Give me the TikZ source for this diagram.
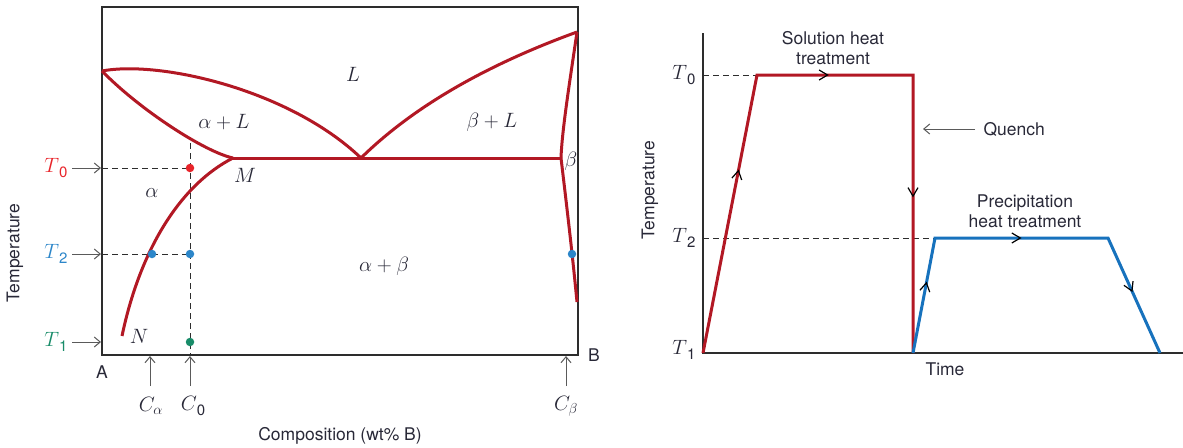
\documentclass[tikz,border=0pt]{standalone}
\usepackage{fontspec}
\setmainfont{TeX Gyre Heros}
\usetikzlibrary{arrows.meta,decorations.markings}
\definecolor{phred}{RGB}{178,24,36}
\definecolor{phblue}{RGB}{23,114,189}
\definecolor{tred}{RGB}{232,36,42}
\definecolor{tblue}{RGB}{44,134,201}
\definecolor{tgreen}{RGB}{24,140,105}
\definecolor{ink}{RGB}{40,40,55}
\definecolor{axisc}{RGB}{45,45,45}
\definecolor{ptrc}{RGB}{90,90,90}
\newcommand\Tlab[2]{$#1$\raisebox{-0.45ex}{\fontsize{15}{15}\selectfont #2}}
\begin{document}
\begin{tikzpicture}[x=1pt,y=-1pt,
  frame/.style={draw=axisc, line width=1.1pt},
  curve/.style={draw=phred, line width=3pt, line join=miter},
  bcurve/.style={draw=phblue, line width=3pt, line join=miter},
  guide/.style={draw=axisc, dash pattern=on 6pt off 4pt, line width=0.9pt},
  pointer/.style={draw=ptrc, line width=1pt, -{Straight Barb[length=6pt,width=10pt]}},
  dot/.style={circle, inner sep=0pt, minimum size=8.5pt, fill=#1},
  lbl/.style={text=ink, font=\fontsize{17.5}{20.5}\selectfont},
  mlbl/.style={text=ink, font=\fontsize{20}{23}\selectfont},
  tlbl/.style={text=#1, font=\fontsize{21}{24}\selectfont},
  marr/.style={decoration={markings, mark=at position #1 with {\arrow{Straight Barb[length=8.5pt,width=10pt,line width=1.2pt]}}}, decorate}
]
\useasboundingbox (0,0) rectangle (1183,447);

% ---------------- left: phase diagram ----------------
\draw[frame] (102,7) rectangle (578,355);
\coordinate (A0) at (102,71);
\coordinate (E) at (361,158);
\coordinate (M) at (233,158);
\coordinate (Bm) at (577,32);
\coordinate (Bs) at (561,158);
\coordinate (Bend) at (577,302);
\coordinate (Nend) at (122,336);

\draw[guide] (102,168) -- (190,168);
\draw[guide] (190,143) -- (190,355);
\draw[guide] (102,254) -- (190,254);

\draw[curve] (A0) .. controls (160,60) and (290,90) .. (E);
\draw[curve] (A0) .. controls (140,110) and (205,152) .. (M);
\draw[curve] (M) -- (Bs);
\draw[curve] (E) .. controls (420,100) and (500,60) .. (Bm);
\draw[curve] (Bm) .. controls (570,80) and (562,130) .. (Bs);
\draw[curve] (Bs) .. controls (566,200) and (572,250) .. (Bend);
\draw[curve] (M) .. controls (180,185) and (140,250) .. (Nend);

\node[dot=tred] (d0) at (190,168) {};
\node[dot=tblue] (d1) at (152,254) {};
\node[dot=tblue] (d2) at (190,254) {};
\node[dot=tblue] (d3) at (572,254) {};
\node[dot=tgreen] (d4) at (190,342) {};

\node[mlbl] (Lr) at (353,74) {$L$};
\node[mlbl] (aL) at (224,122) {$\alpha + L$};
\node[mlbl] (bL) at (492,122) {$\beta + L$};
\node[mlbl] (bb) at (571,161) {$\beta$};
\node[mlbl] (Mr) at (245,175) {$M$};
\node[mlbl] (ar) at (152,193) {$\alpha$};
\node[mlbl] (Nr) at (139,336) {$N$};
\node[mlbl] (ab) at (384,266) {$\alpha + \beta$};

\node[tlbl=tred] (T0) at (56,168) {\Tlab{T}{0}};
\node[tlbl=tblue] (T2) at (56,254) {\Tlab{T}{2}};
\node[tlbl=tgreen] (T1) at (56,342) {\Tlab{T}{1}};
\coordinate (T0in) at (101,168);
\coordinate (T2in) at (101,254);
\coordinate (T1in) at (101,342);
\draw[pointer] (72,168) -- (T0in);
\draw[pointer] (72,254) -- (T2in);
\draw[pointer] (72,342) -- (T1in);

\node[mlbl] (Ca) at (151,406) {$C_\alpha$};
\node[mlbl] (C0) at (193,406) {\Tlab{C}{0}};
\node[mlbl] (Cb) at (566,406) {$C_\beta$};
\coordinate (Cain) at (150,356);
\coordinate (C0in) at (190,356);
\coordinate (Cbin) at (566,356);
\draw[pointer] (150,386) -- (Cain);
\draw[pointer] (190,386) -- (C0in);
\draw[pointer] (566,386) -- (Cbin);

\node[lbl] (Al) at (102,372) {A};
\node[lbl] (Bl) at (594,355) {B};
\node[lbl] (comp) at (340,436) {Composition (wt\% B)};
\node[lbl, rotate=90] (templ) at (15,253) {Temperature};

% ---------------- right: heat treatment ----------------
\coordinate (O) at (703,353);
\draw[frame] (703,33) -- (O) -- (1183,353);
\draw[guide] (703,75) -- (757,75);
\draw[guide] (703,238) -- (935,238);

\coordinate (r1) at (757,75);
\coordinate (r2) at (913,75);
\coordinate (r3) at (913,353);
\coordinate (b1) at (935,238);
\coordinate (b2) at (1108,238);
\coordinate (b3) at (1160,353);
\draw[curve] (O) -- (r1) -- (r2) -- (r3);
\draw[bcurve] (r3) -- (b1) -- (b2) -- (b3);
\path[color=phred, marr=0.66] (O) -- (r1);
\path[color=phred, marr=0.46] (r1) -- (r2);
\path[color=phred, marr=0.44] (r2) -- (r3);
\path[color=phblue, marr=0.62] (r3) -- (b1);
\path[color=phblue, marr=0.50] (b1) -- (b2);
\path[color=phblue, marr=0.47] (b2) -- (b3);

\node[tlbl=ink] (RT0) at (684,75) {\Tlab{T}{0}};
\node[tlbl=ink] (RT2) at (684,238) {\Tlab{T}{2}};
\node[tlbl=ink] (RT1) at (684,350) {\Tlab{T}{1}};

\node[lbl, align=center] (sol) at (833,48) {Solution heat\\treatment};
\node[lbl, align=center] (prec) at (1025,211) {Precipitation\\heat treatment};
\node[lbl, anchor=west] (qu) at (980,129) {Quench};
\coordinate (qin) at (923,129);
\draw[pointer] (975,129) -- (qin);
\node[lbl] (time) at (945,369) {Time};
\node[lbl, rotate=90] (tempr) at (650,190) {Temperature};
\end{tikzpicture}
\end{document}
